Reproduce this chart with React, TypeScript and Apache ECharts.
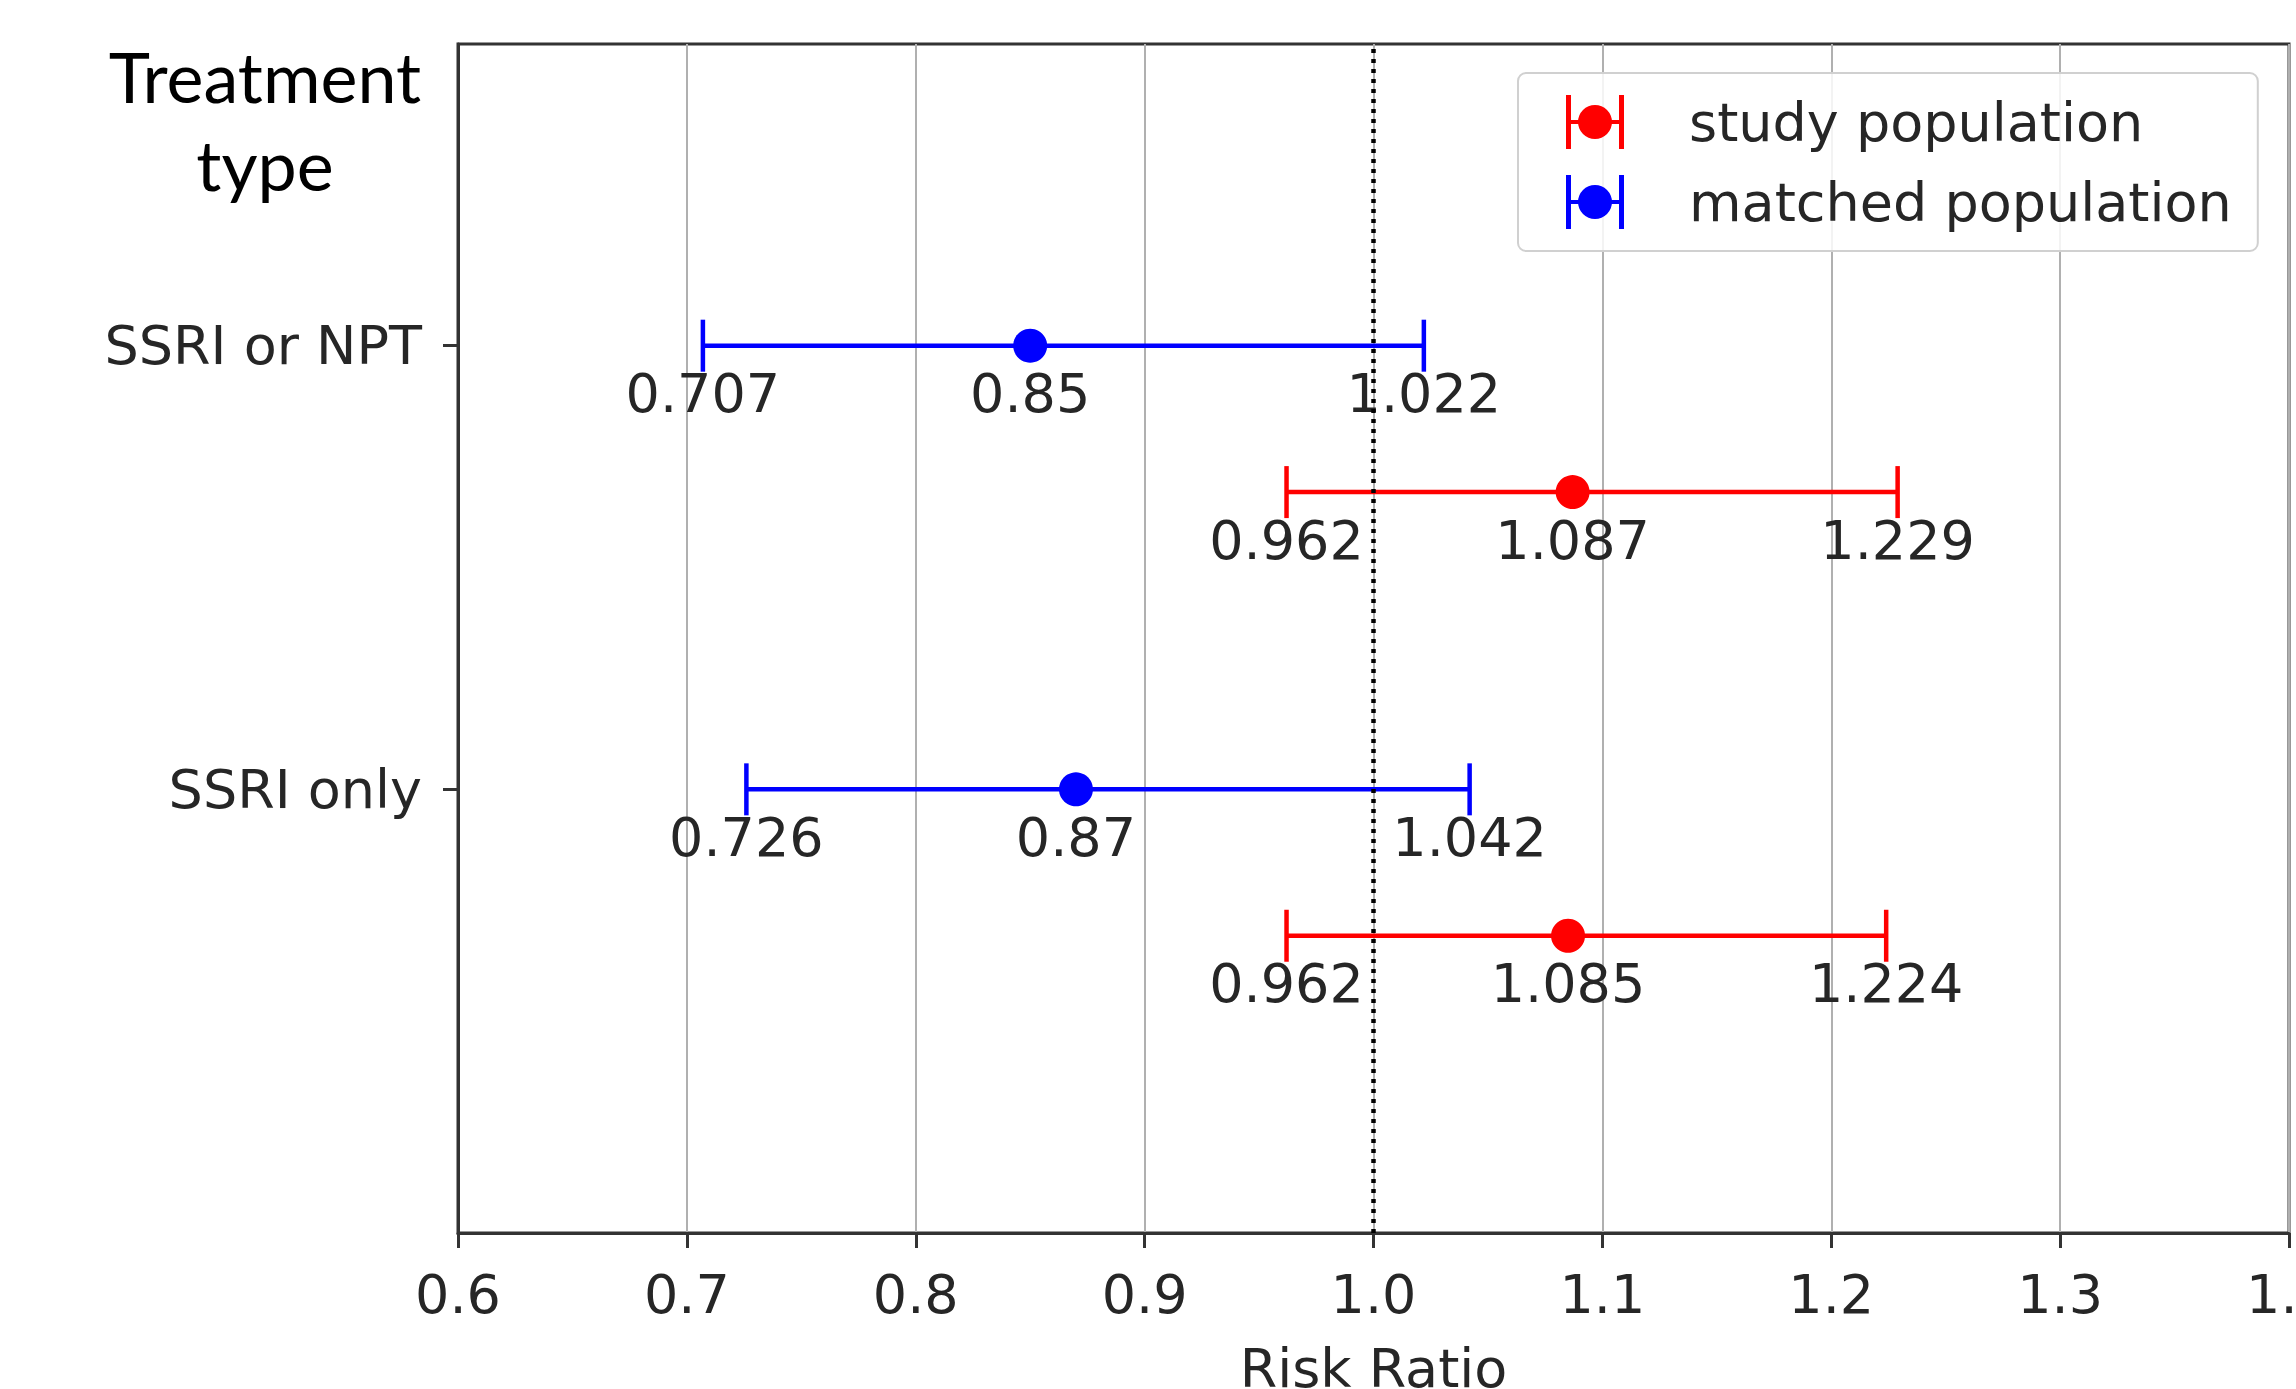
import React, { useEffect, useRef } from 'react';
import * as echarts from 'echarts';

const categories = ['SSRI or NPT', 'SSRI only'];
const categoryY = [2, 1];
const studyLow = [0.962, 0.962];
const studyMid = [1.087, 1.085];
const studyHigh = [1.229, 1.224];
const matchedLow = [0.707, 0.726];
const matchedMid = [0.85, 0.87];
const matchedHigh = [1.022, 1.042];
const xMin = 0.6;
const xMax = 1.4;
const xStep = 0.1;
const refValue = 1.0;

const ROW_OFFSET = 0.33;
const FONT = 'DejaVu Sans';
const TXT = '#262626';
const FS = 54;

const legendIcon =
  'path://M0,0h5v54h-5z M53,0h5v54h-5z M5,25h48v4h-48z M12,27a17,17 0 1,1 34,0a17,17 0 1,1 -34,0z';

function renderErr(params: any, api: any) {
  const lo = api.value(0);
  const mid = api.value(1);
  const hi = api.value(2);
  const y = api.value(3);
  const pL = api.coord([lo, y]);
  const pM = api.coord([mid, y]);
  const pH = api.coord([hi, y]);
  const color = api.visual('color');
  const cap = 26;
  const ls = { stroke: color, lineWidth: 4.5 };
  const mk = (v: number, p: number[]) => ({
    type: 'text',
    style: {
      text: String(v),
      x: p[0],
      y: p[1] + 48,
      fill: TXT,
      fontSize: FS,
      fontFamily: FONT,
      align: 'center',
      verticalAlign: 'middle',
    },
  });
  return {
    type: 'group',
    children: [
      { type: 'line', shape: { x1: pL[0], y1: pL[1], x2: pH[0], y2: pH[1] }, style: ls },
      { type: 'line', shape: { x1: pL[0], y1: pL[1] - cap, x2: pL[0], y2: pL[1] + cap }, style: ls },
      { type: 'line', shape: { x1: pH[0], y1: pH[1] - cap, x2: pH[0], y2: pH[1] + cap }, style: ls },
      mk(lo, pL),
      mk(mid, pM),
      mk(hi, pH),
    ],
  };
}

export default function App() {
  const ref = useRef<HTMLDivElement>(null);
  useEffect(() => {
    if (!ref.current) return;
    const chart = echarts.init(ref.current, null, { renderer: 'svg' });
    const matchedData = categories.map((_, i) => [matchedLow[i], matchedMid[i], matchedHigh[i], categoryY[i]]);
    const studyData = categories.map((_, i) => [studyLow[i], studyMid[i], studyHigh[i], categoryY[i] - ROW_OFFSET]);
    chart.setOption({
      animation: false,
      backgroundColor: '#ffffff',
      grid: {
        left: 458,
        right: 7,
        top: 44,
        bottom: 156,
        outerBoundsMode: 'none',
        containLabel: false,
        show: true,
        borderColor: '#333',
        borderWidth: 3,
        backgroundColor: 'transparent',
      },
      xAxis: {
        type: 'value',
        min: xMin,
        max: xMax,
        interval: xStep,
        name: 'Risk Ratio',
        nameLocation: 'middle',
        nameGap: 108,
        nameTextStyle: { fontFamily: FONT, fontSize: FS, color: TXT },
        axisLine: { show: true, lineStyle: { color: '#333', width: 3 } },
        axisTick: { show: true, length: 15, lineStyle: { color: '#333', width: 3 } },
        axisLabel: {
          fontFamily: FONT,
          fontSize: FS,
          color: TXT,
          margin: 34,
          formatter: (v: number) => v.toFixed(1),
        },
        splitLine: { show: true, lineStyle: { color: '#b0b0b0', width: 2 } },
      },
      yAxis: {
        type: 'value',
        min: 0,
        max: 2.68,
        interval: 1,
        axisLine: { show: true, lineStyle: { color: '#333', width: 3 } },
        axisTick: { show: true, length: 15, lineStyle: { color: '#333', width: 3 }, customValues: categoryY },
        axisLabel: {
          fontFamily: FONT,
          fontSize: FS,
          color: TXT,
          margin: 36,
          customValues: categoryY,
          formatter: (v: number) => {
            const i = categoryY.findIndex((c) => Math.abs(c - v) < 1e-6);
            return i >= 0 ? categories[i] : '';
          },
        },
        splitLine: { show: false },
      },
      legend: {
        orient: 'vertical',
        left: 1518,
        top: 73,
        padding: [22, 26, 22, 48],
        itemWidth: 58,
        itemHeight: 54,
        itemGap: 26,
        backgroundColor: 'rgba(255,255,255,0.85)',
        borderColor: '#d0d0d0',
        borderWidth: 2,
        borderRadius: 8,
        textStyle: { fontFamily: FONT, fontSize: FS, color: TXT, padding: [0, 0, 0, 60] },
        data: [
          { name: 'study population', icon: legendIcon },
          { name: 'matched population', icon: legendIcon },
        ],
      },
      series: [
        {
          name: 'study population',
          type: 'custom',
          color: '#ff0000',
          renderItem: renderErr,
          encode: { x: [0, 1, 2], y: 3 },
          data: studyData,
          z: 3,
        },
        {
          name: 'matched population',
          type: 'custom',
          color: '#0000ff',
          renderItem: renderErr,
          encode: { x: [0, 1, 2], y: 3 },
          data: matchedData,
          z: 3,
        },
        {
          name: 'study population',
          type: 'scatter',
          color: '#ff0000',
          symbolSize: 34,
          itemStyle: { opacity: 1 },
          data: categories.map((_, i) => [studyMid[i], categoryY[i] - ROW_OFFSET]),
          z: 4,
        },
        {
          name: 'matched population',
          type: 'scatter',
          color: '#0000ff',
          symbolSize: 34,
          itemStyle: { opacity: 1 },
          data: categories.map((_, i) => [matchedMid[i], categoryY[i]]),
          z: 4,
          markLine: {
            silent: true,
            symbol: 'none',
            label: { show: false },
            lineStyle: { color: '#000', width: 4.5, type: [4, 6] },
            data: [{ xAxis: refValue }],
            z: 5,
          },
        },
      ],
      graphic: [
        {
          type: 'text',
          x: 265,
          y: 76,
          style: {
            text: 'Treatment',
            fontFamily: 'Lato',
            fontSize: 70,
            fill: '#000',
            align: 'center',
            verticalAlign: 'middle',
          },
        },
        {
          type: 'text',
          x: 265,
          y: 164,
          style: {
            text: 'type',
            fontFamily: 'Lato',
            fontSize: 70,
            fill: '#000',
            align: 'center',
            verticalAlign: 'middle',
          },
        },
      ],
    });
    return () => chart.dispose();
  }, []);
  return (
    <div
      ref={ref}
      style={{ position: 'fixed', left: 0, top: 0, width: 2296, height: 1389, background: '#fff' }}
    />
  );
}
